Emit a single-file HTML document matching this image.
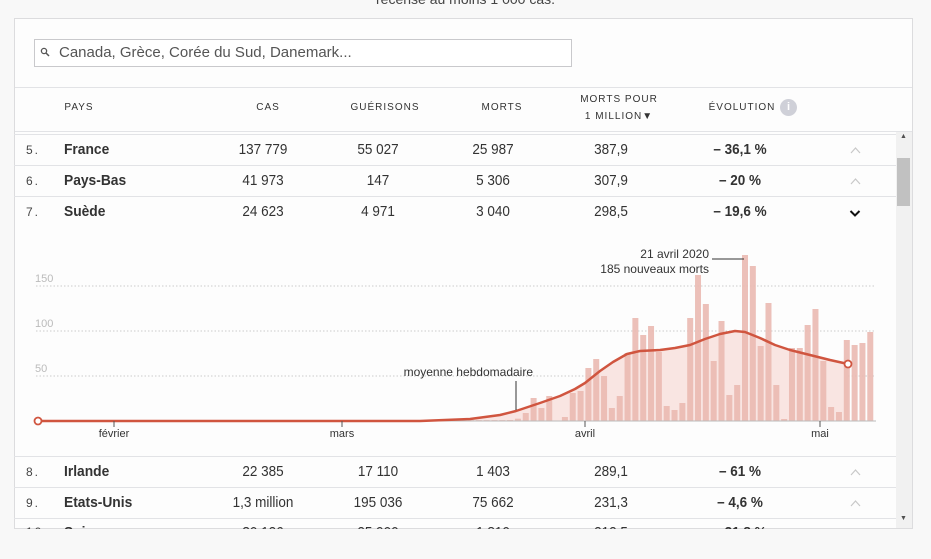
<!DOCTYPE html>
<html><head><meta charset="utf-8"><style>
*{margin:0;padding:0;box-sizing:border-box}
body{width:931px;height:556px;background:#f8f8f8;font-family:"Liberation Sans",sans-serif;color:#333;position:relative;overflow:hidden}
.a{position:absolute;white-space:nowrap}
.box{position:absolute;left:14px;top:18px;width:899px;height:511px;background:#fdfdfd;border:1px solid #dcdcde;overflow:hidden}
.h{font-size:10px;letter-spacing:1px;color:#333;transform:translateX(-50%)}
.c{transform:translateX(-50%) scaleX(0.9);font-size:15px;color:#333}
.b{font-weight:bold}
.ln{position:absolute;left:14px;width:882px;height:1px;background:#e2e3e6}
.rk{font-size:12px;letter-spacing:2px;color:#444}
.nm{font-size:15px;font-weight:bold;color:#333;transform:scaleX(0.92);transform-origin:left}
</style></head><body>
<div class="a" style="left:0;width:931px;text-align:center;top:-9px;font-size:14px;color:#444">recensé au moins 1 000 cas.</div>
<div class="box"></div>
<div class="a" style="left:34px;top:39px;width:538px;height:28px;border:1px solid #c9c9cc;background:#fff"></div>
<svg class="a" style="left:40px;top:47px" width="10" height="10"><circle cx="4" cy="4" r="2.6" fill="none" stroke="#555" stroke-width="1.3"/><line x1="6" y1="6" x2="9" y2="9" stroke="#555" stroke-width="1.5"/></svg>
<div class="a" style="left:59px;top:44px;font-size:15px;color:#555">Canada, Grèce, Corée du Sud, Danemark...</div>
<div class="ln" style="top:87px;left:15px;width:897px"></div>
<div class="a h" style="left:79px;top:102px">PAYS</div>
<div class="a h" style="left:268px;top:102px">CAS</div>
<div class="a h" style="left:385px;top:102px">GUÉRISONS</div>
<div class="a h" style="left:502px;top:102px">MORTS</div>
<div class="a h" style="left:619px;top:94px">MORTS POUR</div>
<div class="a h" style="left:619px;top:111px">1 MILLION▼</div>
<div class="a h" style="left:742px;top:102px">ÉVOLUTION</div>
<div class="a" style="left:780px;top:99px;width:17px;height:17px;border-radius:50%;background:#cfd0d8;color:#fff;font-size:11px;font-weight:bold;text-align:center;line-height:17px">i</div>
<div class="ln" style="top:131px;left:15px;width:897px"></div>
<div class="ln" style="top:134px"></div>
<div class="a" style="left:896px;top:132px;width:16px;height:396px;background:#f1f1f1"></div>
<div class="a" style="left:897px;top:158px;width:13px;height:48px;background:#c1c1c1"></div>
<div class="a" style="left:900px;top:133px;font-size:7px;color:#505050">▲</div>
<div class="a" style="left:900px;top:515px;font-size:7px;color:#505050">▼</div>
<svg class="a" style="left:0;top:0" width="931" height="556">
<g fill="none" stroke="#c8c8c8" stroke-width="1.2">
<polyline points="851,153 855.5,148 860,153"/><polyline points="851,184 855.5,179 860,184"/>
<polyline points="851,475 855.5,470 860,475"/><polyline points="851,506 855.5,501 860,506"/></g>
<polyline points="850.5,211 855,215.5 859.5,211" fill="none" stroke="#111" stroke-width="2"/>
</svg>
<div class="a rk" style="left:26px;top:143px">5.</div><div class="a nm" style="left:64px;top:141px">France</div>
<div class="a c" style="left:263px;top:141px">137 779</div><div class="a c" style="left:378px;top:141px">55 027</div><div class="a c" style="left:493px;top:141px">25 987</div><div class="a c" style="left:611px;top:141px">387,9</div><div class="a c b" style="left:740px;top:141px">– 36,1 %</div>
<div class="ln" style="top:165px"></div>
<div class="a rk" style="left:26px;top:174px">6.</div><div class="a nm" style="left:64px;top:172px">Pays-Bas</div>
<div class="a c" style="left:263px;top:172px">41 973</div><div class="a c" style="left:378px;top:172px">147</div><div class="a c" style="left:493px;top:172px">5 306</div><div class="a c" style="left:611px;top:172px">307,9</div><div class="a c b" style="left:740px;top:172px">– 20 %</div>
<div class="ln" style="top:196px"></div>
<div class="a rk" style="left:26px;top:205px">7.</div><div class="a nm" style="left:64px;top:203px">Suède</div>
<div class="a c" style="left:263px;top:203px">24 623</div><div class="a c" style="left:378px;top:203px">4 971</div><div class="a c" style="left:493px;top:203px">3 040</div><div class="a c" style="left:611px;top:203px">298,5</div><div class="a c b" style="left:740px;top:203px">– 19,6 %</div>
<svg class="a" style="left:0;top:230px" width="896" height="226" id="ch"></svg>
<div class="ln" style="top:456px"></div>
<div class="a rk" style="left:26px;top:465px">8.</div><div class="a nm" style="left:64px;top:463px">Irlande</div>
<div class="a c" style="left:263px;top:463px">22 385</div><div class="a c" style="left:378px;top:463px">17 110</div><div class="a c" style="left:493px;top:463px">1 403</div><div class="a c" style="left:611px;top:463px">289,1</div><div class="a c b" style="left:740px;top:463px">– 61 %</div>
<div class="ln" style="top:487px"></div>
<div class="a rk" style="left:26px;top:496px">9.</div><div class="a nm" style="left:64px;top:494px">Etats-Unis</div>
<div class="a c" style="left:263px;top:494px">1,3 million</div><div class="a c" style="left:378px;top:494px">195 036</div><div class="a c" style="left:493px;top:494px">75 662</div><div class="a c" style="left:611px;top:494px">231,3</div><div class="a c b" style="left:740px;top:494px">– 4,6 %</div>
<div class="ln" style="top:518px"></div>
<div class="a rk" style="left:26px;top:525px">10.</div><div class="a nm" style="left:64px;top:524px">Suisse</div>
<div class="a c" style="left:263px;top:524px">30 126</div><div class="a c" style="left:378px;top:524px">25 900</div><div class="a c" style="left:493px;top:524px">1 810</div><div class="a c" style="left:611px;top:524px">212,5</div><div class="a c b" style="left:740px;top:524px">– 31,8 %</div>
<div class="a" style="left:14px;top:529px;width:918px;height:30px;background:#f8f8f8"></div>
<script>
var s='',H=[1,2.3,8,23,13,25,0,4,28,30,53,62,45,13,25,68,103,86,95,69,15,11,18,103,146,117,60,100,26,36,166,155,75,118,36,2,73,73,96,112,60,14,9,81,76,78,89];
var o=-230,B=421+o;
[[286,'150'],[331,'100'],[376,'50']].forEach(function(g){s+='<line x1="36" x2="876" y1="'+(g[0]+o)+'" y2="'+(g[0]+o)+'" stroke="#ccc" stroke-dasharray="1.5,2"/><text x="35" y="'+(g[0]+o-4)+'" font-size="11" fill="#bbb" font-family="Liberation Sans">'+g[1]+'</text>';});
var P=[[38,421],[420,421],[470,419],[500,415],[516,411],[540,403],[560,396],[575,389],[585,383],[600,371],[613,362],[627,354],[640,351],[660,350],[675,348],[690,345],[705,339],[720,334],[735,331],[745,332],[760,338],[775,345],[790,350],[810,355],[830,360],[848,364]];
var d='M'+P.map(function(p){return p[0]+','+(p[1]+o)}).join(' L');
s+='<path d="'+d+' L848,'+B+' L38,'+B+'Z" fill="#f9e5e2"/>';
for(var k=0;k<5;k++){s+='<rect x="'+(468+k*7.83)+'" y="'+(B-1)+'" width="6" height="1" fill="#efc6bf"/>';}
H.forEach(function(h,i){var x=507.1+i*7.83;s+='<rect x="'+x+'" y="'+(B-h)+'" width="6" height="'+h+'" fill="#eab9b1" opacity="0.9"/>';});
s+='<line x1="36" x2="876" y1="'+B+'" y2="'+B+'" stroke="#bbb"/>';
s+='<path d="'+d+'" fill="none" stroke="#d0553f" stroke-width="2.5" stroke-linejoin="round"/>';
s+='<circle cx="38" cy="'+B+'" r="3.5" fill="#fff" stroke="#d0553f" stroke-width="1.8"/><circle cx="848" cy="'+(364+o)+'" r="3.5" fill="#fff" stroke="#d0553f" stroke-width="1.8"/>';
[[114,'février'],[342,'mars'],[585,'avril'],[820,'mai']].forEach(function(t){s+='<line x1="'+t[0]+'" x2="'+t[0]+'" y1="'+B+'" y2="'+(B+6)+'" stroke="#555"/><text x="'+t[0]+'" y="'+(B+16)+'" font-size="11" text-anchor="middle" fill="#333" font-family="Liberation Sans">'+t[1]+'</text>';});
s+='<line x1="516" x2="516" y1="'+(381+o)+'" y2="'+(410+o)+'" stroke="#333"/><text x="533" y="'+(376+o)+'" font-size="12" text-anchor="end" fill="#333" font-family="Liberation Sans">moyenne hebdomadaire</text>';
s+='<text x="709" y="'+(258+o)+'" font-size="12" text-anchor="end" fill="#333" font-family="Liberation Sans">21 avril 2020</text><text x="709" y="'+(273+o)+'" font-size="12" text-anchor="end" fill="#333" font-family="Liberation Sans">185 nouveaux morts</text><line x1="712" x2="744" y1="'+(259+o)+'" y2="'+(259+o)+'" stroke="#333"/>';
document.getElementById('ch').innerHTML=s;
</script>
</body></html>
